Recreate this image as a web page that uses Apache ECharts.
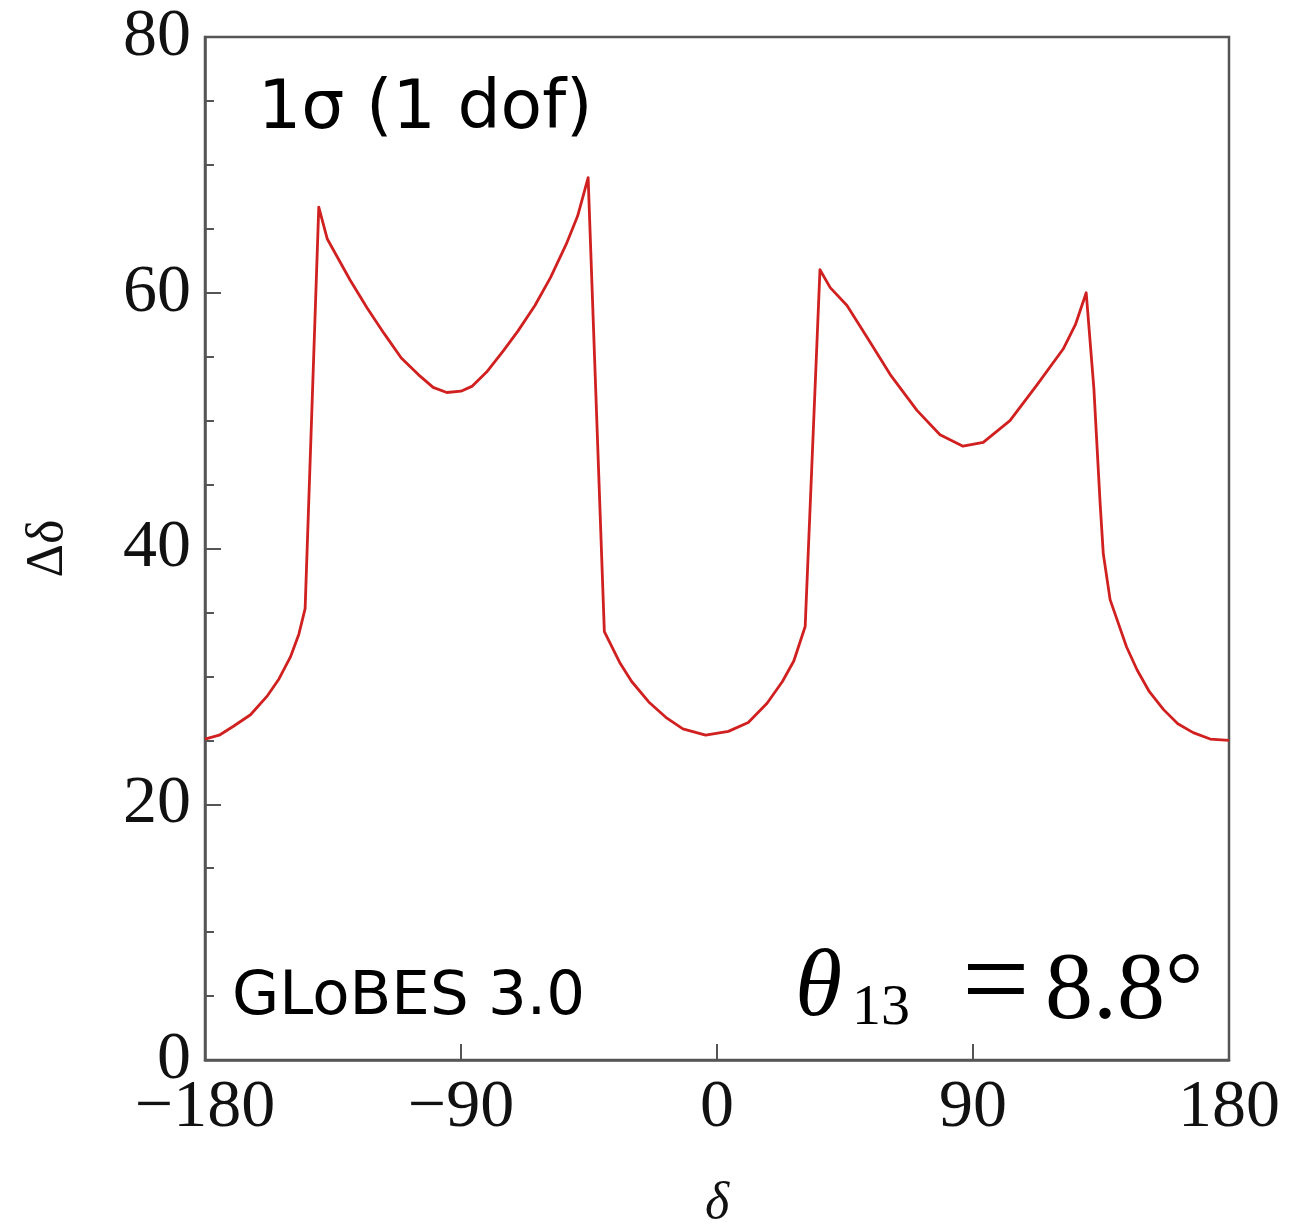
<!DOCTYPE html>
<html>
<head>
<meta charset="utf-8">
<script src="https://cdn.jsdelivr.net/npm/echarts@6/dist/echarts.min.js"></script>
<style>
html,body{margin:0;padding:0;background:#fff;}
#chart{width:1310px;height:1229px;}
</style>
</head>
<body>
<div id="chart"></div>
<script>
// delta (degrees)
var deltaValues = [-180,-175,-170,-164,-158,-154,-150,-147,-144.8,-140.0,-137,-133,-129,-123,-117,-111,-105,-99.8,-95,-90,-86,-81,-75,-70,-64,-58.5,-53,-49,-45.3,-39.6,-34,-30,-24,-18,-12,-4,4,11,17.6,23,27,31.0,36.2,39.8,45.7,52.8,60.9,70.3,78.4,86.5,93.6,103,112.5,121.7,126,129.8,132.5,134.7,135.8,138.2,140.7,144,147.7,152,157,162,167.4,173.4,180];
// Delta delta (degrees)
var precisionValues = [25.1,25.4,26.1,27.0,28.5,29.8,31.5,33.3,35.3,66.7,64.2,62.6,61.0,58.8,56.8,54.9,53.6,52.6,52.2,52.3,52.7,53.8,55.5,57.0,59.0,61.2,63.8,66.0,69.0,33.5,31.0,29.6,28.0,26.8,25.9,25.4,25.7,26.4,27.9,29.6,31.2,33.9,61.8,60.4,59.0,56.5,53.6,50.8,48.9,48.0,48.3,50.0,52.8,55.6,57.5,60.0,52.5,43.5,39.6,36.0,34.4,32.3,30.5,28.8,27.4,26.3,25.6,25.1,25.0];
var xTicks = [-180,-90,0,90,180];
var yTicks = [0,20,40,60,80];

var seriesData = deltaValues.map(function(x,i){return [x, precisionValues[i]];});

var chart = echarts.init(document.getElementById('chart'), null, {renderer:'canvas'});
var serif = 'Liberation Serif';
var sans = 'DejaVu Sans';
var axisColor = '#555';
chart.setOption({
  animation:false,
  backgroundColor:'#fff',
  grid:{left:205, right:81, top:37, bottom:169, containLabel:false, outerBoundsMode:'none',
        show:true, borderColor:axisColor, borderWidth:2.5, backgroundColor:'transparent'},
  xAxis:{
    type:'value', min:xTicks[0], max:xTicks[xTicks.length-1], interval:90,
    name:'δ', nameLocation:'middle', nameGap:118,
    nameTextStyle:{fontFamily:serif, fontStyle:'italic', fontSize:52, color:'#111'},
    axisLine:{show:true, onZero:false, lineStyle:{color:axisColor, width:2.5}},
    axisTick:{show:true, inside:true, length:16, lineStyle:{color:axisColor, width:2}},
    minorTick:{show:false},
    splitLine:{show:false},
    axisLabel:{fontFamily:serif, fontSize:68, color:'#111', margin:14,
      formatter:function(v){return v<0 ? '\u2212'+Math.abs(v) : String(v);}}
  },
  yAxis:{
    type:'value', min:yTicks[0], max:yTicks[yTicks.length-1], interval:20,
    name:'Δδ', nameLocation:'middle', nameGap:131, nameRotate:90,
    nameTextStyle:{fontFamily:serif, fontSize:52, color:'#111'},
    axisLine:{show:true, onZero:false, lineStyle:{color:axisColor, width:2.5}},
    axisTick:{show:true, inside:true, length:16, lineStyle:{color:axisColor, width:2}},
    minorTick:{show:true, splitNumber:4, length:9, lineStyle:{color:axisColor, width:2}},
    splitLine:{show:false},
    minorSplitLine:{show:false},
    axisLabel:{fontFamily:serif, fontSize:68, color:'#111', margin:14}
  },
  series:[{
    type:'line', data:seriesData, symbol:'none', smooth:false,
    lineStyle:{color:'#d02020', width:2.8, join:'round'}
  }],
  graphic:[
    {type:'text', left:258, top:76, style:{text:'1σ (1 dof)', fontFamily:sans, fontSize:68, fill:'#000'}},
    {type:'text', left:232, top:968, style:{text:'GLoBES 3.0', fontFamily:sans, fontSize:61, fill:'#000'}},
    {type:'text', left:795, top:942, style:{text:'θ', fontFamily:serif, fontStyle:'italic', fontSize:96, fill:'#000'}},
    {type:'text', left:852, top:980, style:{text:'13', fontFamily:serif, fontSize:58, fill:'#000'}},
    {type:'text', left:962, top:927, style:{text:'=', fontFamily:serif, fontSize:120, fill:'#000'}},
    {type:'text', left:1045, top:945, style:{text:'8.8°', fontFamily:serif, fontSize:96, fill:'#000'}}
  ]
});
</script>
</body>
</html>
